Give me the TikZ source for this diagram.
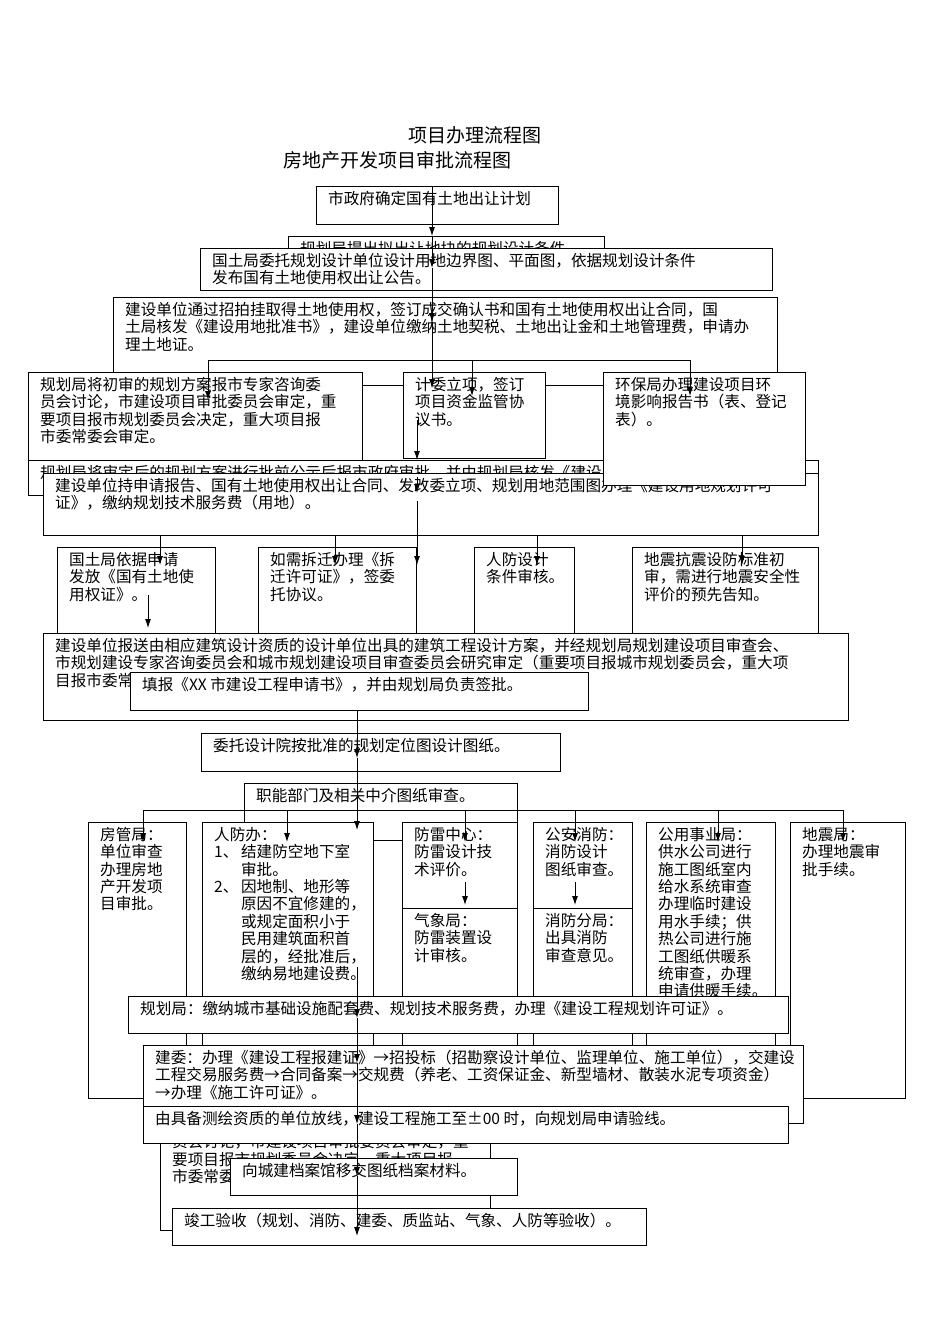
\documentclass[tikz,border=0pt]{standalone}
\usepackage{fontspec}
\setmainfont{Liberation Serif}
\newfontfamily\cjk{Noto Sans CJK SC}
\usetikzlibrary{arrows.meta}
\begin{document}
\begin{tikzpicture}[x=1pt,y=-1pt,
  box/.style={draw,line width=0.9pt,fill=white,inner sep=0pt,anchor=north west},
  txt/.style={anchor=north west,align=left,inner sep=0pt,font=\cjk\fontsize{15.6}{17.4}\selectfont},
  arr/.style={line width=0.9pt,-{Latex[length=9pt,width=6pt]}},
  ln/.style={line width=0.9pt}]
\useasboundingbox (0,0) rectangle (950,1344);
\newcommand{\bx}[6]{%
  \node[box,minimum width=#4-#2,minimum height=#5-#3] (#1) at (#2,#3) {};
  \node[txt] (#1t) at ([xshift=12pt,yshift=-5pt]#1.north west) {#6};}
\node[txt,font=\cjk\fontsize{19}{21}\selectfont,anchor=center] (t1) at (475,135) {项目办理流程图};
\node[txt,font=\cjk\fontsize{19}{21}\selectfont,anchor=center] (t2) at (397,160) {房地产开发项目审批流程图};
\bx{b1}{316}{186}{558}{224}{市政府确定国有土地出让计划}
\bx{b0}{288}{236}{604}{262}{规划局提出拟出让地块的规划设计条件}
\bx{b2}{200}{248}{772}{290}{国土局委托规划设计单位设计用地边界图、平面图，依据规划设计条件\\发布国有土地使用权出让公告。}
\bx{b3}{113}{297}{777}{385}{建设单位通过招拍挂取得土地使用权，签订成交确认书和国有土地使用权出让合同，国\\土局核发《建设用地批准书》，建设单位缴纳土地契税、土地出让金和土地管理费，申请办\\理土地证。}
\bx{l1}{28}{372}{362}{465}{规划局将初审的规划方案报市专家咨询委\\员会讨论，市建设项目审批委员会审定，重\\要项目报市规划委员会决定，重大项目报\\市委常委会审定。}
\bx{h2}{28}{460}{818}{495}{规划局将审定后的规划方案进行批前公示后报市政府审批，并由规划局核发《建设用地规划许可证》}
\bx{b4}{43}{473}{818}{535}{建设单位持申请报告、国有土地使用权出让合同、发改委立项、规划用地范围图办理《建设用地规划许可\\证》，缴纳规划技术服务费（用地）。}
\bx{m1}{403}{372}{545}{458}{计委立项，签订\\项目资金监管协\\议书。}
\bx{r1}{603}{372}{805}{485}{环保局办理建设项目环\\境影响报告书（表、登记\\表）。}
\bx{g1}{57}{547}{215}{640}{国土局依据申请\\发放《国有土地使\\用权证》。}
\bx{g2}{258}{547}{416}{640}{如需拆迁办理《拆\\迁许可证》，签委\\托协议。}
\bx{g3}{474}{547}{574}{640}{人防设计\\条件审核。}
\bx{g4}{632}{547}{818}{640}{地震抗震设防标准初\\审，需进行地震安全性\\评价的预先告知。}
\bx{b5}{43}{633}{848}{720}{建设单位报送由相应建筑设计资质的设计单位出具的建筑工程设计方案，并经规划局规划建设项目审查会、\\市规划建设专家咨询委员会和城市规划建设项目审查委员会研究审定（重要项目报城市规划委员会，重大项\\目报市委常委会审定）。}
\bx{b6}{130}{672}{588}{710}{填报《XX 市建设工程申请书》，并由规划局负责签批。}
\bx{b7}{201}{733}{560}{771}{委托设计院按批准的规划定位图设计图纸。}
\bx{b8}{244}{783}{517}{840}{职能部门及相关中介图纸审查。}
\bx{f1}{88}{822}{186}{1098}{房管局：\\单位审查\\办理房地\\产开发项\\目审批。}
\bx{f2}{202}{822}{373}{1090}{人防办：\\1、\,结建防空地下室\\\phantom{1、\,}审批。\\2、\,因地制、地形等\\\phantom{1、\,}原因不宜修建的，\\\phantom{1、\,}或规定面积小于\\\phantom{1、\,}民用建筑面积首\\\phantom{1、\,}层的，经批准后，\\\phantom{1、\,}缴纳易地建设费。}
\bx{f3a}{402}{822}{517}{908}{防雷中心：\\防雷设计技\\术评价。}
\bx{f3b}{402}{908}{517}{1090}{气象局：\\防雷装置设\\计审核。}
\bx{f4a}{533}{822}{632}{908}{公安消防：\\消防设计\\图纸审查。}
\bx{f4b}{533}{908}{632}{1090}{消防分局：\\出具消防\\审查意见。}
\bx{f5}{646}{822}{775}{1090}{公用事业局：\\供水公司进行\\施工图纸室内\\给水系统审查\\办理临时建设\\用水手续；供\\热公司进行施\\工图纸供暖系\\统审查，办理\\申请供暖手续。}
\bx{f6}{790}{822}{905}{1098}{地震局：\\办理地震审\\批手续。}
\bx{b9}{128}{996}{788}{1033}{规划局：缴纳城市基础设施配套费、规划技术服务费，办理《建设工程规划许可证》。}
\bx{b10}{143}{1045}{803}{1123}{建委：办理《建设工程报建证》→招投标（招勘察设计单位、监理单位、施工单位），交建设\\工程交易服务费→合同备案→交规费（养老、工资保证金、新型墙材、散装水泥专项资金）\\→办理《施工许可证》。}
\bx{h3}{160}{1125}{490}{1230}{\\员会讨论，市建设项目审批委员会审定，重\\要项目报市规划委员会决定，重大项目报\\市委常委会审定。}
\bx{b11}{143}{1106}{788}{1143}{由具备测绘资质的单位放线，建设工程施工至±00 时，向规划局申请验线。}
\bx{b12}{230}{1158}{517}{1195}{向城建档案馆移交图纸档案材料。}
\bx{b13}{172}{1208}{646}{1245}{竣工验收（规划、消防、建委、质监站、气象、人防等验收）。}
% connectors
\coordinate (ma) at (432,0);
\coordinate (mb) at (417,0);
\coordinate (mc) at (357,0);
\draw[arr] (b1.north -| ma) -- (b0.north -| ma);
\draw[arr] (b0.north -| ma) -- ([yshift=-20pt]b2.north -| ma);
\draw[arr] ([yshift=-20pt]b2.north -| ma) -- ([yshift=-25pt]b3.north -| ma);
\draw[ln] ([yshift=-25pt]b3.north -| ma) -- ([yshift=-63pt]b3.north -| ma);
\coordinate (br1) at (208,360);
\coordinate (br2) at (690,360);
\draw[ln] (br1) -- (br2);
\draw[arr] (br1) -- ([yshift=-28pt]l1.north -| br1);
\draw[arr] (br1 -| ma) -- ([yshift=-16pt]m1.north -| ma);
\draw[arr] (br1 -| 472,0) -- ([yshift=-24pt]m1.north -| 472,0);
\draw[arr] (br2) -- ([yshift=-24pt]r1.north -| br2);
\draw[arr] ([yshift=-48pt]m1.north -| mb) -- ([yshift=-88pt]m1.north -| mb);
\draw[arr] ([yshift=-105pt]m1.north -| mb) -- ([yshift=-20pt]b4.north -| mb);
\draw[ln] ([yshift=-28pt]b4.north -| mb) -- (b4.south -| mb);
\draw[arr] (b4.south -| mb) -- ([yshift=-18pt]g2.north -| mb);
\foreach \xx/\g in {160/g1,335/g2,537/g3,742/g4}{
  \draw[arr] (b4.south -| \xx,0) -- ([yshift=-18pt]\g.north -| \xx,0);}
\draw[arr] ([yshift=-48pt]g1.north -| 148,0) -- ([yshift=5pt]b5.north -| 148,0);
\draw[arr] (b6.south -| mc) -- ([yshift=-25pt]b7.north -| mc);
\draw[arr] ([yshift=-25pt]b7.north -| mc) -- ([yshift=-47pt]b8.north -| mc);
\coordinate (bl) at (143,810);
\coordinate (brr) at (843,810);
\draw[ln] (bl) -- (brr);
\foreach \xx/\g in {143/f1,287/f2,465/f3a,575/f4a,718/f5,843/f6}{
  \draw[arr] (bl -| \xx,0) -- ([yshift=-20pt]\g.north -| \xx,0);}
\draw[arr] ([yshift=-60pt]f3a.north -| 465,0) -- ([yshift=-83pt]f3a.north -| 465,0);
\draw[arr] ([yshift=-60pt]f4a.north -| 575,0) -- ([yshift=-83pt]f4a.north -| 575,0);
\draw[arr] ([yshift=-145pt]f2.north -| mc) -- ([yshift=-22pt]b9.north -| mc);
\draw[arr] ([yshift=-22pt]b9.north -| mc) -- ([yshift=-18pt]b10.north -| mc);
\draw[arr] ([yshift=-18pt]b10.north -| mc) -- ([yshift=-18pt]b11.north -| mc);
\draw[arr] ([yshift=-18pt]b11.north -| mc) -- ([yshift=-18pt]b12.north -| mc);
\draw[arr] ([yshift=-18pt]b12.north -| mc) -- ([yshift=-28pt]b13.north -| mc);
\end{tikzpicture}
\end{document}
